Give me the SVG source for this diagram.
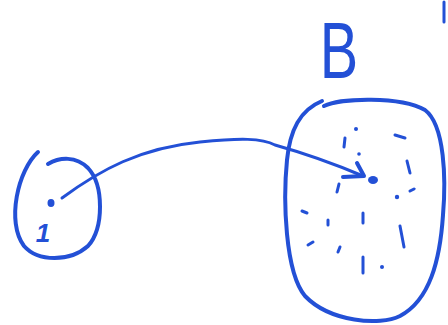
<svg xmlns="http://www.w3.org/2000/svg" width="448" height="325" viewBox="0 0 448 325">
<style>
.ink{fill:none;stroke:#2350d6;stroke-linecap:round;stroke-linejoin:round}
.thick{stroke-width:4}
.thin{stroke-width:3}
.dot{fill:#2350d6}
.lbl{font-family:"Liberation Sans",Arial,sans-serif;fill:#2350d6}
</style>
<rect width="448" height="325" fill="#ffffff"/>
<g id="setA">
<path class="ink thick" d="M38,152 C18,170 6,222 24,246 C38,262 70,262 88,246 C104,228 104,185 88,168 C76,156 60,157 48,164"/>
<ellipse class="dot" cx="51" cy="203" rx="3.5" ry="4"/>
<text class="lbl" x="43" y="242" font-size="26" font-style="italic" font-weight="bold" text-anchor="middle">1</text>
</g>
<g id="setB">
<text class="lbl" transform="translate(339,78) scale(0.72,1)" x="0" y="0" font-size="80" text-anchor="middle">B</text>
<path class="ink thick" d="M324,106 C340,98 400,96 425,110 C445,125 446,180 443,215 C440,260 430,300 400,316 C380,326 330,322 305,296 C285,272 283,200 287,160 C290,130 300,110 322,101"/>
<g class="ink thin">
<path d="M345,138 L344,147"/>
<path d="M395,135 L405,138"/>
<path d="M407,161 L410,173"/>
<path d="M339,184 L337,192"/>
<path d="M410,191 L414,189"/>
<path d="M302,211 L307,213"/>
<path d="M328,220 L328,225"/>
<path d="M363,213 L363,223"/>
<path d="M400,226 L404,247"/>
<path d="M308,245 L313,242"/>
<path d="M340,247 L338,252"/>
<path d="M363,257 L363,273"/>
</g>
<circle class="dot" cx="356" cy="129" r="2"/>
<circle class="dot" cx="359" cy="154" r="1.8"/>
<circle class="dot" cx="397" cy="197" r="2.2"/>
<circle class="dot" cx="382" cy="267" r="2"/>
<ellipse class="dot" cx="373" cy="180" rx="5" ry="4"/>
</g>
<path class="ink thin" d="M444,2 L444,22"/>
<g id="connectors">
<path class="ink thin" d="M62,198 C100,170 140,148 200,142 C240,138 262,138 275,145 C300,152 330,162 363,176"/>
<path class="ink thick" d="M343,177 L364,176 L357,163"/>
</g>
</svg>
